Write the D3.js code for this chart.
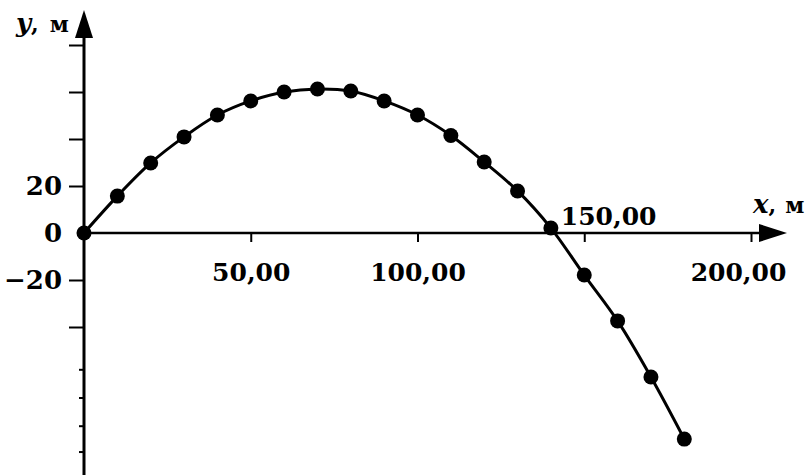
<!DOCTYPE html>
<html>
<head>
<meta charset="utf-8">
<script src="https://cdn.jsdelivr.net/npm/d3@7"></script>
<style>
  html, body { margin: 0; padding: 0; background: #fff; }
  svg { display: block; }
  text { font-family: "DejaVu Serif", "Liberation Serif", serif; fill: #000; }
</style>
</head>
<body>
<svg id="chart" width="812" height="475"></svg>
<script>
// ---- data ----
const xValues = [0, 10, 20, 30, 40, 50, 60, 70, 80, 90, 100, 110, 120, 130, 140, 150, 160, 170, 180];
const yValues = [0, 15.7, 29.8, 40.9, 50.2, 56.2, 60.0, 61.3, 60.4, 56.2, 50.2, 41.5, 30.2, 17.9, 2.1, -17.9, -37.4, -61.3, -87.7];
const xTicks = [50, 100, 150, 200];
const yTicks = [80, 60, 40, 20, -20, -40];
const yLabelValues = [20, 0, -20];
const yMinorTicks = [-58, -70, -82, -93];
const xAxisTitle = ["x", ",", "м"];
const yAxisTitle = ["y", ",", "м"];

// ---- drawing ----
const svg = d3.select("#chart");
const x = d3.scaleLinear().domain([0, 200]).range([84, 751]);
const y = d3.scaleLinear().domain([0, 80]).range([233, 45]);

const loc = d3.formatLocale({decimal: ",", thousands: "\u00a0", grouping: [3], currency: ["", ""], minus: "\u2212"});
const fmtX = loc.format(".2f");
const fmtY = loc.format("d");

// y axis line + arrow
svg.append("line").attr("x1", x(0)).attr("x2", x(0)).attr("y1", 475).attr("y2", 30)
  .attr("stroke", "#000").attr("stroke-width", 3);
svg.append("path").attr("d", `M${x(0)},10 L${x(0) - 9},38 L${x(0) + 9},38 Z`).attr("fill", "#000");

// x axis line + arrow
svg.append("line").attr("x1", x(0) - 2).attr("x2", 765).attr("y1", y(0)).attr("y2", y(0))
  .attr("stroke", "#000").attr("stroke-width", 2.5);
svg.append("path").attr("d", `M787,${y(0)} L759,${y(0) - 9} L759,${y(0) + 9} Z`).attr("fill", "#000");

// x ticks via axis
const xAxis = d3.axisBottom(x).tickValues(xTicks).tickSize(9).tickFormat(fmtX);
const gx = svg.append("g").attr("transform", `translate(0,${y(0)})`).call(xAxis);
gx.select(".domain").remove();
gx.selectAll(".tick line").attr("stroke", "#000").attr("stroke-width", 2);
gx.selectAll(".tick text")
  .attr("font-family", "DejaVu Serif").attr("font-weight", "bold").attr("font-size", 25)
  .attr("y", 48).attr("dy", 0)
  .each(function(d) {
    const t = d3.select(this);
    if (d === 150) { t.attr("text-anchor", "start").attr("x", -24).attr("y", -8); }
    if (d === 200) { t.attr("x", -13); }
  });

// y ticks via axis (major)
const yAxis = d3.axisLeft(y).tickValues(yTicks).tickSize(15).tickFormat("");
const gy = svg.append("g").attr("transform", `translate(${x(0)},0)`).call(yAxis);
gy.select(".domain").remove();
gy.selectAll(".tick line").attr("stroke", "#000").attr("stroke-width", 2);

// y minor ticks
const yAxisMinor = d3.axisLeft(y).tickValues(yMinorTicks).tickSize(5).tickFormat("");
const gym = svg.append("g").attr("transform", `translate(${x(0)},0)`).call(yAxisMinor);
gym.select(".domain").remove();
gym.selectAll(".tick line").attr("stroke", "#000").attr("stroke-width", 2);

// y labels
svg.append("g").selectAll("text").data(yLabelValues).join("text")
  .attr("x", 62).attr("y", d => y(d)).attr("dy", "0.36em")
  .attr("text-anchor", "end").attr("font-weight", "bold").attr("font-size", 26)
  .text(d => fmtY(d));

// axis titles
function title(xp, yp, parts, gap) {
  const t = svg.append("text").attr("x", xp).attr("y", yp).attr("font-size", 26);
  t.append("tspan").attr("font-style", "italic").attr("font-weight", "bold").text(parts[0]);
  t.append("tspan").attr("font-weight", "bold").attr("font-size", 22).text(parts[1]);
  t.append("tspan").attr("dx", gap).attr("font-weight", "bold").attr("font-size", 22).text(parts[2]);
}
title(16, 32, yAxisTitle, 11);
title(753, 213, xAxisTitle, 9);

// curve
const pts = xValues.map((v, i) => [v, yValues[i]]);
const line = d3.line().x(d => x(d[0])).y(d => y(d[1])).curve(d3.curveCatmullRom.alpha(0.5));
svg.append("path").datum(pts).attr("d", line)
  .attr("fill", "none").attr("stroke", "#000").attr("stroke-width", 3);

svg.append("g").selectAll("circle").data(pts).join("circle")
  .attr("cx", d => x(d[0])).attr("cy", d => y(d[1])).attr("r", 7.5).attr("fill", "#000");
</script>
</body>
</html>
